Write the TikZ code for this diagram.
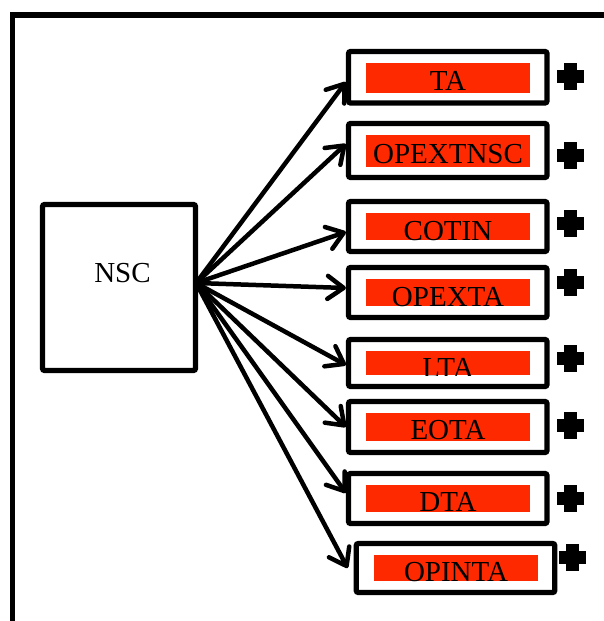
\documentclass[tikz,border=0pt]{standalone}
\usepackage{fontspec}
\setmainfont{Liberation Serif}
\usetikzlibrary{arrows.meta}

\definecolor{tagred}{RGB}{255,41,0}

\tikzset{
  frameline/.style={line width=5.5pt, line cap=rect},
  srcbox/.style={draw, line width=5.2pt, rounded corners=2pt, inner sep=0pt,
                 minimum width=153pt, minimum height=166pt},
  itembox/.style={draw, line width=5.2pt, rounded corners=2pt, inner sep=0pt,
                  minimum width=198.5pt},
  tagtext/.style={anchor=base, inner sep=0pt, font=\fontsize{29}{31}\selectfont},
  link/.style={line width=4.5pt, line cap=round, line join=round,
               -{Straight Barb[length=16pt,width=23pt,line cap=round,line join=round]}},
  plusmark/.pic={
    \fill (-13.5,-6.5) rectangle (13.5,6.5);
    \fill (-6.5,-13.5) rectangle (6.5,13.5);
  }
}

% red tag with its text clipped to the tag
% #1 name, #2 x1, #3 y1, #4 x2, #5 y2, #6 baseline, #7 text
\newcommand\redtag[7]{%
  \begin{scope}
    \clip (#2,#3) rectangle (#4,#5);
    \fill[tagred] (#2,#3) rectangle (#4,#5);
    \node[tagtext] (#1) at ({(#2+#4)/2},#6) {#7};
  \end{scope}%
}

\begin{document}
\begin{tikzpicture}[x=1pt,y=-1pt]
  \useasboundingbox (0,0) rectangle (603,621);

  % outer frame, open to the right and bottom
  \draw[frameline] (12.5,625) -- (12.5,15) -- (610,15);

  % source box
  \node[srcbox] (nsc) at (119,287.5) {};
  \node[tagtext] (nsclabel) at (122.5,282) {NSC};

  % target boxes
  \node[itembox, minimum height=51.5pt] (ta)  at (447.75,77.25) {};
  \node[itembox, minimum height=54pt]   (opextnsc) at (447.75,150.5) {};
  \node[itembox, minimum height=50pt]   (cotin) at (447.75,226.5) {};
  \node[itembox, minimum height=50pt]   (opexta) at (447.75,292.5) {};
  \node[itembox, minimum height=47pt]   (lta) at (447.75,363) {};
  \node[itembox, minimum height=51pt]   (eota) at (447.75,427) {};
  \node[itembox, minimum height=50pt]   (dta) at (447.75,498.5) {};
  \node[itembox, minimum height=49pt]   (opinta) at (455.5,568) {};

  % red tags
  \redtag{tatext}{366}{63}{530}{93}{90}{TA}
  \redtag{opextnsctext}{366}{135}{530}{167}{163}{OPEXTNSC}
  \redtag{cotintext}{366}{213}{530}{240}{240.5}{COTIN}
  \redtag{opextatext}{366}{279}{530}{306}{306.5}{OPEXTA}
  \redtag{ltatext}{366}{351}{530}{375}{377.5}{LTA}
  \redtag{eotatext}{366}{413}{530}{441}{439.5}{EOTA}
  \redtag{dtatext}{366}{485}{530}{512}{511.5}{DTA}
  \redtag{opintatext}{374}{555}{538}{581}{581.5}{OPINTA}

  % plus marks
  \pic at (570.5,76)  {plusmark};
  \pic at (570.5,155) {plusmark};
  \pic at (570.5,223) {plusmark};
  \pic at (570.5,282) {plusmark};
  \pic at (570.5,358) {plusmark};
  \pic at (570.5,425) {plusmark};
  \pic at (570.5,498) {plusmark};
  \pic at (572,557)   {plusmark};

  % connectors
  \coordinate (hub) at ([xshift=-2pt,yshift=4.5pt]nsc.east);
  \draw[link] (hub) -- ([yshift=-4.75pt]ta.west);
  \draw[link] (hub) -- ([yshift=6.5pt]opextnsc.west);
  \draw[link] (hub) -- ([yshift=-5.5pt]cotin.west);
  \draw[link] (hub) -- ([yshift=4.5pt]opexta.west);
  \draw[link] (hub) -- ([yshift=-2pt]lta.west);
  \draw[link] (hub) -- (eota.west);
  \draw[link] (hub) -- ([yshift=5.5pt]dta.west);
  \draw[link] (hub) -- ([xshift=-6pt]opinta.west);
\end{tikzpicture}
\end{document}
